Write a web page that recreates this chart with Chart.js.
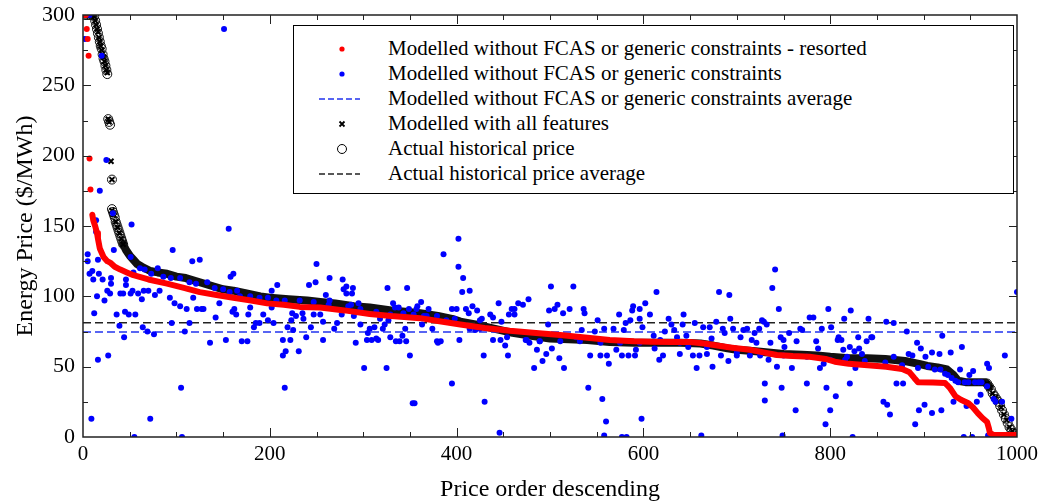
<!DOCTYPE html>
<html>
<head>
<meta charset="utf-8">
<script src="https://cdn.jsdelivr.net/npm/chart.js@4/dist/chart.umd.min.js"></script>
<style>
  body { margin: 0; background: #fff; }
  #wrap { position: relative; width: 1053px; height: 503px; }
  #legend {
    position: absolute; left: 293px; top: 25px; width: 719px; height: 167px;
    border: 1px solid #000; background: #fff;
    font-family: "Liberation Serif", "Times New Roman", serif; font-size: 21px; color: #000;
  }
  #legend .row { position: absolute; left: 0; height: 25px; line-height: 25px; white-space: nowrap; }
  #legend .row svg { position: absolute; left: 22px; top: 5px; }
  #legend .row span { position: absolute; left: 94px; }
</style>
</head>
<body>
<div id="wrap">
  <canvas id="chart"></canvas>
  <div id="legend"></div>
</div>
<script>
// x = position in descending price order, y = $/MWh

// actual historical price, discrete circles (steep head and tail)
const actualPts = [
  [2,300],[4,300],[6,300],[8,300],[10,300],[12,299],[13,296],[14,293],[15,290],[16,287],
  [17,284],[18,281],[19,278],[20,276],[21,272],[22,269],[23,267],[24,264],[25,261],[26,258],
  [27,226],[28,224],[29,222],[31,183],[31,162],[32,160],[33,158],[34,156],[35,153],[36,151],
  [37,149],[38,147],[39,145],[40,143],[41,141],[42,139],[43,137],
  [968,38],[970,36],[972,34],[974,31],[976,29],[978,27],[980,25],[982,22],[984,19],[986,16],
  [988,13],[990,10],[992,7],[994,5],[996,3],[998,2],[1000,1]
];

// actual historical price, dense middle part (drawn as a thick band)
const actualBand = [
  [43,137],[46,133],[50,129],[54,126],[58,123],[63,121],[72,118],[80,117],[90,116],[100,114],
  [110,113],[125,110],[140,107],[150,105],[161,104],[175,102],[190,100],[200,99],[220,98],[240,97],
  [254,96],[270,95],[290,93],[307,92],[330,90],[345,89],[361,88],[380,86],[395,84],[404,82],
  [420,80],[440,77],[460,74],[480,72],[500,70],[520,69.5],[540,69],[564,67.5],[590,67],[614,67],
  [640,67],[661,66.5],[675,65],[690,63],[700,62],[720,61],[750,59],[770,58.5],[786,58],[800,57],
  [820,56],[840,56],[859,55.5],[880,54],[895,52],[904,50.5],[915,49.5],[925,48],[932,44],[937,40],
  [945,39],[955,39],[966,39],[970,36]
];

// modelled with all features (x markers)
const allFeatPts = [
  [2,300],[4,300],[6,300],[8,300],[10,300],[12,299],[13,296],[14,293],[15,290],[16,288],
  [17,284],[18,281],[19,278],[20,275],[21,272],[22,270],[23,267],[24,264],[25,261],[26,259],
  [27,226],[28,224],[30,196],[31,183],[31,161],[33,158],[35,153],[37,149],[39,145],[41,141],[43,137],
  [968,38],[971,35],[974,31],[977,28],[980,25],[983,21],[986,16],[989,12],[992,7],[995,4],[998,2]
];

// modelled without FCAS or generic constraints - resorted
const resortedTop = [[1,300],[3,300],[4,290],[5,283],[6,271],[7,198],[8,176]];
const resortedLine = [
  [10,158],[11,154],[13,150],[15,145],[16,141],[18,134],[20,131],[22,128],[26,125],[29,124],
  [34,121],[40,119],[47,117],[54,115],[70,112],[90,109],[108,106],[125,103],[143,101],[161,99],
  [180,97],[197,95],[215,94],[232,92.5],[254,92],[280,90],[307,87.5],[330,86],[361,84.5],[380,82.5],
  [404,80],[430,77.5],[457,75.5],[485,74],[511,72.5],[540,70.5],[564,69],[590,68],[607,67.7],[630,67.5],
  [650,67.5],[665,66.5],[679,65],[695,63.5],[714,62],[730,60],[743,58.3],[760,57.5],[778,57],[795,55.5],
  [805,53.5],[820,52],[840,51],[860,50],[877,48.3],[885,46],[890,42],[894,39],[910,38.7],[923,38.4],
  [925,37],[928,35],[934,29],[940,26.5],[948,24],[953,21],[958,17],[963,13.5],[968,10.7],[970,6],
  [971,2.8],[975,1.5],[985,1.5],[1000,1.5]
];

// modelled without FCAS or generic constraints (unsorted, in actual-price order)
const modelledPts = [
  [2,283],[7,300],[18,175],[20,271],[25,197],[151,290],
  [5,130],[5,125],[7,116],[9,13],[10,118],[11,112],[12,88],[14,154],[14,146],[15,100],[16,126],[16,55],
  [17,116],[21,112],[23,97],[26,104],[27,58],[29,102],[30,113],[30,109],[32,159],[33,133],[36,87],[39,79],
  [40,102],[43,102],[44,71],[45,89],[46,108],[46,112],[49,87],[51,102],[51,128],[52,151],[53,104],[54,117],
  [55,0],[56,87],[59,102],[61,120],[63,98],[64,78],[65,104],[66,119],[69,75],[70,104],[72,13],[73,116],
  [76,73],[77,101],[80,120],[82,104],[86,114],[93,99],[94,113],[95,81],[96,133],[98,95],[104,93],[104,113],
  [105,35],[106,0],[109,75],[111,91],[114,81],[114,110],[117,125],[118,99],[121,109],[122,91],[125,126],
  [127,91],[129,91],[133,110],[136,67],[141,106],[142,85],[146,95],[150,105],[153,69],[156,148],[157,103],
  [158,114],[160,89],[161,116],[162,91],[164,87],[165,104],[168,100],[170,68],[176,68],[177,87],[179,92],
  [179,100],[183,78],[185,81],[189,81],[189,99],[193,87],[198,83],[198,99],[202,92],[202,104],
  [204,81],[207,97],[208,108],[214,69],[214,58],[216,35],[216,97],[217,61],[219,78],[222,69],[223,83],
  [224,88],[225,76],[228,86],[231,61],[232,97],[235,88],[236,84],[239,71],[242,108],[244,78],[247,87],
  [247,96],[249,110],[250,123],[254,87],[257,82],[257,69],[260,101],[263,94],[264,113],[264,97],[269,77],
  [272,81],[277,87],[278,112],[279,105],[282,107],[282,102],[284,93],[287,94],[288,102],[289,106],[290,86],
  [292,67],[295,95],[297,80],[297,91],[301,49],[304,69],[305,74],[307,77],[309,69],[312,78],[314,70],
  [314,89],[316,69],[318,84],[321,77],[323,80],[325,49],[326,106],[327,83],[329,71],[329,87],[332,95],
  [334,92],[335,68],[338,92],[339,68],[342,72],[343,88],[345,77],[346,68],[347,106],[349,91],[350,58],
  [353,24],[354,87],[355,24],[357,91],[358,93],[362,96],[363,80],[365,86],[368,86],[370,91],[374,77],
  [379,68],[379,86],[380,67],[383,68],[386,130],[389,83],[395,38],[395,91],[398,84],[400,91],[402,121],
  [402,141],[403,69],
  [407,113],[406,103],[410,91],[413,88],[414,104],[414,77],[417,93],[420,76],[422,90],[425,83],[425,77],
  [427,84],[429,58],[430,25],[436,87],[439,85],[439,69],[445,95],[446,3],[447,69],[448,82],[452,65],
  [454,71],[455,58],[456,87],[459,91],[462,91],[462,87],[466,95],[471,94],[474,69],[475,69],[477,98],
  [478,67],[483,49],[486,62],[489,68],[489,68],[492,54],[496,59],[498,80],[499,90],[501,107],[502,63],
  [505,91],[508,94],[510,56],[511,68],[514,88],[515,49],[521,91],[525,107],[528,71],[532,68],[534,76],
  [536,91],[537,88],[541,35],[543,58],[548,75],[551,83],[554,58],[554,67],[556,27],[558,77],[558,1],
  [560,11],[561,58],[563,52],[568,77],[571,62],[574,87],[575,67],[577,58],[577,0],[579,76],[581,81],
  [582,0],[584,58],[586,83],[588,90],[589,93],[591,58],[592,62],[596,91],[596,84],[596,67],[598,13],
  [599,78],[602,95],
  [607,87],[611,72],[612,63],[614,103],[617,55],[618,69],[621,58],[623,75],[627,84],[630,80],[633,76],
  [636,71],[639,59],[639,67],[642,80],[643,87],[646,72],[648,64],[653,58],[655,81],[657,49],[660,58],
  [662,1],[664,78],[668,59],[668,64],[671,78],[673,70],[674,50],[678,82],[681,103],[683,58],[685,77],
  [687,74],[691,54],[692,101],[693,84],[696,77],[700,58],[700,60],[704,71],[707,76],[711,77],[714,58],
  [716,69],[719,74],[721,67],[724,77],[725,58],[727,83],[729,82],[730,38],[730,26],[732,80],[734,55],
  [736,67],[738,106],[741,119],[743,50],[745,91],[747,71],[748,35],[749,1],[750,69],[750,58],[751,64],
  [756,74],[759,49],[763,19],[764,68],[768,77],[770,76],[775,38],[775,57],[778,85],[782,85],[785,68],
  [787,63],[789,49],[791,77],[793,52],[795,9],[796,35],[798,91],[800,19],[800,55],[801,78],[806,29],
  [808,69],
  [809,71],[812,69],[814,62],[815,84],[816,55],[818,57],[821,64],[821,38],[822,90],[824,0],[826,61],
  [827,49],[830,71],[831,63],[834,59],[837,54],[839,68],[841,84],[844,71],[845,71],[857,25],[859,53],
  [860,82],[861,23],[864,16],[868,81],[868,57],[871,38],[877,51],[878,38],[882,75],[884,59],[888,58],
  [891,9],[893,67],[894,49],[895,19],[897,63],[901,23],[902,57],[905,50],[909,17],[909,60],[912,48],
  [917,59],[918,48],[919,19],[920,72],[923,45],[926,44],[929,60],[930,42],[932,25],[934,40],[937,39],
  [939,48],[941,64],[943,0],[944,39],[946,22],[948,39],[949,44],[952,0],[953,47],[955,39],[957,25],
  [959,39],[961,30],[962,39],[968,52],[968,36],[969,1],[970,49],[975,27],[977,25],[984,25],[987,58],
  [994,13],[1000,103]
];

const modelledAvg = 74.6;
const actualAvg = 81.2;

const toXY = pts => pts.map(p => ({x: p[0], y: p[1]}));
const flat = v => [{x: 0, y: v}, {x: 1000, y: v}];

const SERIF = '"Liberation Serif", "Times New Roman", serif';

// frame plus inward ticks on all four sides
const frameTicks = {
  id: 'frameTicks',
  afterDraw(chart) {
    const {ctx, chartArea: a, scales: {x, y}} = chart;
    ctx.save();
    ctx.strokeStyle = '#222';
    ctx.lineWidth = 1;
    ctx.beginPath();
    for (let v = 50; v < 1000; v += 50) {
      const px = Math.round(x.getPixelForValue(v)) + 0.5;
      const len = v % 200 === 0 ? 9 : 5;
      ctx.moveTo(px, a.bottom); ctx.lineTo(px, a.bottom - len);
      ctx.moveTo(px, a.top); ctx.lineTo(px, a.top + len);
    }
    for (let v = 25; v < 300; v += 25) {
      const py = Math.round(y.getPixelForValue(v)) + 0.5;
      const len = v % 50 === 0 ? 8 : 5;
      ctx.moveTo(a.left, py); ctx.lineTo(a.left + len, py);
      ctx.moveTo(a.right, py); ctx.lineTo(a.right - len, py);
    }
    ctx.stroke();
    ctx.lineWidth = 1.5;
    ctx.strokeRect(a.left, a.top, a.right - a.left, a.bottom - a.top);
    ctx.restore();
  }
};

new Chart(document.getElementById('chart'), {
  type: 'scatter',
  data: {
    datasets: [
      { data: toXY(resortedTop), backgroundColor: '#ff0000', pointRadius: 3, borderWidth: 0, order: 0 },
      { data: toXY(resortedLine), showLine: true, borderColor: '#ff0000', borderWidth: 6,
        borderJoinStyle: 'round', borderCapStyle: 'round', pointRadius: 0, order: 1 },
      { data: toXY(modelledPts), backgroundColor: '#0000ff', pointRadius: 3, borderWidth: 0, order: 2 },
      { data: flat(modelledAvg), showLine: true, borderColor: '#2233ee', borderWidth: 1.5,
        borderDash: [8, 4], pointRadius: 0, order: 3 },
      { data: flat(actualAvg), showLine: true, borderColor: '#222', borderWidth: 1.5,
        borderDash: [8, 4], pointRadius: 0, order: 3 },
      { data: toXY(allFeatPts), pointStyle: 'crossRot', pointRadius: 3.5, borderColor: '#000',
        borderWidth: 2, order: 4 },
      { data: toXY(actualPts), pointStyle: 'circle', pointRadius: 4.5, borderColor: '#111',
        backgroundColor: 'rgba(0,0,0,0)', borderWidth: 1, order: 5 },
      { data: toXY(actualBand), showLine: true, borderColor: '#111', borderWidth: 8,
        borderJoinStyle: 'round', borderCapStyle: 'round', pointRadius: 0, order: 6 }
    ]
  },
  options: {
    responsive: true,
    maintainAspectRatio: false,
    animation: false,
    events: [],
    layout: { padding: { top: 15, right: 36, left: 0, bottom: 0 } },
    plugins: { legend: { display: false }, tooltip: { enabled: false } },
    scales: {
      x: {
        type: 'linear', min: 0, max: 1000,
        grid: { display: false, drawTicks: false }, border: { display: false },
        ticks: { stepSize: 200, padding: 5, color: '#000', font: { family: SERIF, size: 21 },
          callback: v => String(v) },
        title: { display: true, text: 'Price order descending', color: '#000',
          font: { family: SERIF, size: 24, lineHeight: 1 }, padding: { top: 0, bottom: 1 } },
        afterFit(s) { s.height = 66; s.paddingLeft = 0; s.paddingRight = 0; }
      },
      y: {
        type: 'linear', min: 0, max: 300,
        grid: { display: false, drawTicks: false }, border: { display: false },
        ticks: { stepSize: 50, padding: 8, color: '#000', font: { family: SERIF, size: 22 },
          callback: v => String(v) },
        title: { display: true, text: 'Energy Price ($/MWh)', color: '#000',
          font: { family: SERIF, size: 24, lineHeight: 1 }, padding: { top: 14, bottom: 0 } },
        afterFit(s) { s.width = 83; s.paddingTop = 0; s.paddingBottom = 0; }
      }
    }
  },
  plugins: [frameTicks]
});

// legend box drawn as html over the plot
const legendRows = [
  { label: 'Modelled without FCAS or generic constraints - resorted',
    svg: '<circle cx="26" cy="8" r="2.6" fill="#ff0000"/>' },
  { label: 'Modelled without FCAS or generic constraints',
    svg: '<circle cx="26" cy="8" r="2.6" fill="#0000ff"/>' },
  { label: 'Modelled without FCAS or generic constraints average',
    svg: '<line x1="3" y1="8" x2="44" y2="8" stroke="#2233ee" stroke-width="1.5" stroke-dasharray="6 3"/>' },
  { label: 'Modelled with all features',
    svg: '<path d="M23.5 5.5 L28.5 10.5 M28.5 5.5 L23.5 10.5" stroke="#000" stroke-width="1.8"/>' },
  { label: 'Actual historical price',
    svg: '<circle cx="26" cy="8" r="4.5" fill="none" stroke="#000" stroke-width="1"/>' },
  { label: 'Actual historical price average',
    svg: '<line x1="3" y1="8" x2="44" y2="8" stroke="#222" stroke-width="1.5" stroke-dasharray="6 3"/>' }
];
const legendEl = document.getElementById('legend');
legendRows.forEach((r, i) => {
  const row = document.createElement('div');
  row.className = 'row';
  row.style.top = (10 + 25 * i) + 'px';
  row.innerHTML = '<svg width="50" height="16">' + r.svg + '</svg><span>' + r.label + '</span>';
  legendEl.appendChild(row);
});
</script>
</body>
</html>
